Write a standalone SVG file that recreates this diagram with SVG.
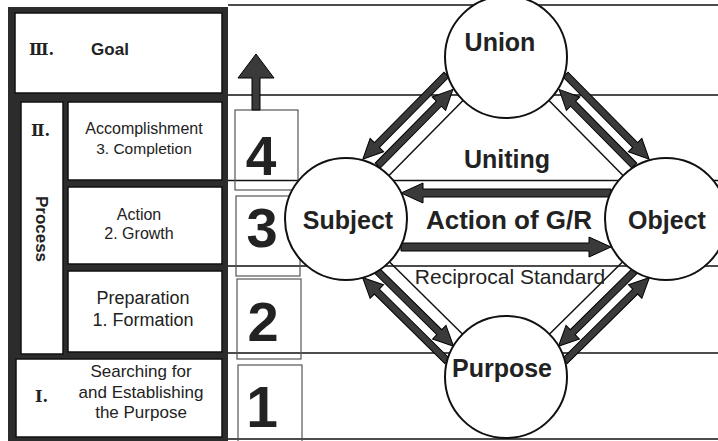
<svg xmlns="http://www.w3.org/2000/svg" width="718" height="441" viewBox="0 0 718 441">
<style>
.bg{fill:#fff}
.frame{fill:#2c2c2c}
.box{fill:#fff;stroke:#111;stroke-width:1.5}
.numbox{fill:none;stroke:#555;stroke-width:1.2}
.row{stroke:#111;stroke-width:1.3;fill:none}
.node{fill:#fff;stroke:#111;stroke-width:2}
.arr{fill:#3a3a3a;stroke:#000;stroke-width:1}
.thin{stroke:#111;stroke-width:1.5}
.t{font-family:"Liberation Sans",Arial,sans-serif;fill:#222}
.b{font-weight:bold}
.m{text-anchor:middle}
.roman{font-family:"DejaVu Serif","Liberation Serif","Noto Sans CJK JP",serif;fill:#222;font-size:16px;font-weight:bold}
</style>
<defs>
<g id="link">
<polygon class="arr" points="-59.5,-30 -39.5,-39.5 -39.5,-33.5 59.5,-33.5 59.5,-26.5 -39.5,-26.5 -39.5,-20.5"/>
<polygon class="arr" points="53.5,-15 33.5,-24.5 33.5,-18.5 -53.5,-18.5 -53.5,-11.5 33.5,-11.5 33.5,-5.5"/>
<line class="thin" x1="-53" y1="0" x2="53" y2="0"/>
</g>
</defs>
<rect class="bg" x="0" y="0" width="718" height="441"/>
<g id="rows">
<line class="row" x1="228" y1="5" x2="718" y2="5"/>
<line class="row" x1="228" y1="95" x2="718" y2="95"/>
<line class="row" x1="228" y1="180.5" x2="718" y2="180.5"/>
<line class="row" x1="228" y1="266" x2="718" y2="266"/>
<line class="row" x1="228" y1="353" x2="718" y2="353"/>
<line class="row" x1="228" y1="439" x2="718" y2="439"/>
</g>
<g id="left-panel">
<rect class="frame" x="8" y="7" width="220" height="434"/>
<g id="goal"><rect class="box" x="15" y="13" width="207" height="80"/>
<text class="roman" x="29" y="55" font-size="16">Ⅲ.</text>
<text class="t b m" x="110" y="55" font-size="17">Goal</text></g>
<g id="process"><rect class="box" x="21" y="102" width="42" height="252"/>
<text class="roman" x="31" y="136">Ⅱ.</text>
<text class="t b m" transform="translate(36,229) rotate(90)" font-size="17">Process</text></g>
<g id="accomplishment"><rect class="box" x="68" y="102" width="154" height="78"/>
<text class="t m" x="144" y="134" font-size="16">Accomplishment</text>
<text class="t m" x="144" y="154" font-size="15.5">3. Completion</text></g>
<g id="action"><rect class="box" x="68" y="187" width="154" height="77"/>
<text class="t m" x="139" y="220" font-size="16">Action</text>
<text class="t m" x="139" y="239" font-size="16">2. Growth</text></g>
<g id="preparation"><rect class="box" x="68" y="271" width="154" height="81"/>
<text class="t m" x="143" y="304" font-size="18">Preparation</text>
<text class="t m" x="143" y="326" font-size="18">1. Formation</text></g>
<g id="searching"><rect class="box" x="16" y="359" width="206" height="78"/>
<text class="roman" x="35" y="402">Ⅰ.</text>
<text class="t m" x="141" y="377" font-size="17">Searching for</text>
<text class="t m" x="141" y="398" font-size="17">and Establishing</text>
<text class="t m" x="141" y="418" font-size="17">the Purpose</text></g>
</g>
<g id="steps">
<g id="step4"><rect class="numbox" x="235" y="110" width="63" height="80"/><text class="t b m" x="261" y="175" font-size="55">4</text></g>
<g id="step3"><rect class="numbox" x="236" y="196" width="64" height="80"/><text class="t b m" x="262" y="247" font-size="56">3</text></g>
<g id="step2"><rect class="numbox" x="237" y="279" width="64" height="80"/><text class="t b m" x="263" y="341" font-size="56">2</text></g>
<g id="step1"><rect class="numbox" x="238" y="365" width="64" height="80"/><text class="t b m" x="262" y="427" font-size="57">1</text></g>
</g>
<g id="connectors">
<polygon class="arr" points="256,54 274,78 260,78 260,110 252,110 252,78 238,78"/>
<use href="#link" transform="translate(426,138) rotate(-45.35)"/>
<use href="#link" transform="translate(586,138) rotate(-134.65) scale(1,-1)"/>
<use href="#link" transform="translate(586,298) rotate(135.36)"/>
<use href="#link" transform="translate(426,298) rotate(44.64) scale(1,-1)"/>
<polygon class="arr" points="401,193 423,183 423,189 611,189 611,197 423,197 423,203"/>
<polygon class="arr" points="611,247 589,237 589,243 401,243 401,251 589,251 589,257"/>
</g>
<g id="labels">
<text class="t b m" x="507" y="168" font-size="25">Uniting</text>
<text class="t b m" x="509" y="229" font-size="26">Action of G/R</text>
<text class="t m" x="510" y="284" font-size="21">Reciprocal Standard</text>
</g>
<g id="union"><circle class="node" cx="506" cy="57" r="61"/><text class="t b m" x="500" y="51" font-size="25">Union</text></g>
<g id="subject"><circle class="node" cx="346" cy="219" r="61"/><text class="t b m" x="348" y="229" font-size="25">Subject</text></g>
<g id="object"><circle class="node" cx="666" cy="219" r="61"/><text class="t b m" x="667" y="229" font-size="25">Object</text></g>
<g id="purpose"><circle class="node" cx="506" cy="377" r="61"/><text class="t b m" x="502" y="377" font-size="25">Purpose</text></g>
</svg>
